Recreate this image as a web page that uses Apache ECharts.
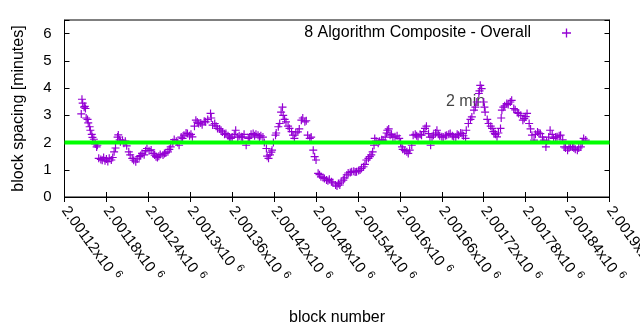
<!DOCTYPE html>
<html><head><meta charset="utf-8">
<script src="https://cdn.jsdelivr.net/npm/echarts@6/dist/echarts.min.js"></script>
<style>html,body{margin:0;padding:0;background:#fff}#c{width:640px;height:330px}</style>
</head><body><div id="c"></div>
<script>
const seriesName = '8 Algorithm Composite - Overall';
const xTitle = 'block number';
const yTitle = 'block spacing [minutes]';
const xMin = 2001120, xMax = 2001900, xStep = 60;
const yMin = 0, yMax = 6.5, yStep = 1;
const targetMinutes = 2;
const targetLabel = '2 min';
const targetLabelAt = [2001666, 3.52];

const blocks = [
2001144,2001145,2001146,2001148,2001149,2001150,2001151,2001153,2001154,2001156,
2001157,2001159,2001160,2001162,2001164,2001166,2001167,2001169,2001172,2001174,
2001176,2001178,2001180,2001182,2001184,2001187,2001189,2001191,2001193,2001196,
2001197,2001199,2001200,2001203,2001205,2001207,2001209,2001212,2001214,2001217,
2001219,2001222,2001224,2001227,2001229,2001231,2001234,2001236,2001238,2001241,
2001244,2001247,2001249,2001251,2001253,2001255,2001257,2001261,2001263,2001265,
2001268,2001270,2001272,2001275,2001277,2001280,2001282,2001284,2001287,2001289,
2001291,2001294,2001296,2001299,2001301,2001303,2001306,2001308,2001310,2001312,
2001315,2001317,2001320,2001322,2001325,2001329,2001330,2001332,2001335,2001337,
2001339,2001342,2001344,2001346,2001349,2001351,2001354,2001356,2001358,2001360,
2001363,2001365,2001368,2001370,2001373,2001375,2001377,2001380,2001383,2001385,
2001387,2001390,2001392,2001394,2001397,2001399,2001401,2001404,2001406,2001409,
2001410,2001412,2001414,2001416,2001417,2001419,2001422,2001423,2001426,2001428,
2001430,2001432,2001433,2001435,2001437,2001440,2001442,2001445,2001447,2001449,
2001451,2001454,2001456,2001459,2001461,2001464,2001466,2001468,2001471,2001473,
2001476,2001478,2001480,2001483,2001485,2001487,2001490,2001492,2001495,2001497,
2001499,2001502,2001504,2001508,2001510,2001512,2001514,2001516,2001519,2001521,
2001524,2001526,2001529,2001531,2001534,2001536,2001538,2001541,2001543,2001545,
2001548,2001550,2001552,2001555,2001557,2001559,2001561,2001563,2001564,2001566,
2001569,2001571,2001574,2001576,2001579,2001581,2001582,2001584,2001586,2001588,
2001590,2001593,2001596,2001599,2001601,2001603,2001604,2001607,2001610,2001612,
2001614,2001617,2001619,2001622,2001624,2001626,2001629,2001631,2001634,2001636,
2001638,2001641,2001643,2001644,2001646,2001648,2001651,2001653,2001655,2001657,
2001660,2001662,2001665,2001667,2001670,2001672,2001675,2001677,2001680,2001682,
2001684,2001687,2001689,2001691,2001694,2001695,2001698,2001701,2001703,2001706,
2001708,2001710,2001713,2001714,2001715,2001717,2001720,2001721,2001722,2001725,
2001727,2001730,2001732,2001734,2001736,2001737,2001739,2001741,2001744,2001745,
2001746,2001748,2001750,2001753,2001755,2001758,2001760,2001763,2001765,2001768,
2001770,2001773,2001776,2001778,2001780,2001782,2001785,2001787,2001789,2001792,
2001794,2001797,2001799,2001801,2001804,2001806,2001809,2001810,2001813,2001815,
2001818,2001820,2001823,2001825,2001828,2001830,2001833,2001835,2001837,2001840,
2001842,2001844,2001847,2001849,2001851,2001854,2001856,2001859,2001861,2001863,
2001866
];

const spacing = [
3.05,3.59,3.45,3.3,3.33,3.25,2.9,2.85,2.72,2.58,
2.45,2.3,2.19,2.12,1.95,1.84,1.9,1.42,1.38,1.35,
1.45,1.33,1.4,1.3,1.42,1.36,1.45,1.66,1.8,2.2,
2.28,2.1,2.03,2.08,1.97,2.05,1.88,1.66,1.55,1.42,
1.35,1.29,1.4,1.48,1.52,1.6,1.55,1.7,1.78,1.7,
1.73,1.6,1.54,1.48,1.45,1.5,1.56,1.54,1.6,1.62,
1.66,1.75,1.84,2.0,2.11,2.05,2.0,1.9,2.2,2.15,
2.27,2.35,2.33,2.25,2.3,2.21,2.6,2.82,2.75,2.7,
2.72,2.65,2.78,2.76,2.85,3.07,2.9,2.64,2.7,2.6,
2.52,2.5,2.45,2.39,2.3,2.33,2.25,2.2,2.15,2.2,
2.3,2.45,2.2,2.25,2.21,2.2,2.3,1.9,2.15,2.2,
2.3,2.33,2.25,2.3,2.27,2.2,2.25,2.2,2.0,1.78,
1.5,1.42,1.55,1.65,1.72,2.0,2.27,2.35,2.58,2.7,
3.12,3.3,3.0,2.85,2.76,2.6,2.52,2.4,2.27,2.15,
2.35,2.39,2.5,2.82,2.9,2.76,2.8,2.27,2.15,2.2,
1.72,1.48,1.36,0.87,0.82,0.74,0.72,0.68,0.62,0.6,
0.65,0.56,0.52,0.44,0.4,0.5,0.44,0.55,0.62,0.7,
0.81,0.88,0.9,0.93,0.95,0.92,0.93,0.97,0.99,1.05,
1.11,1.2,1.36,1.42,1.48,1.55,1.66,1.9,2.15,2.05,
1.97,2.05,2.1,2.09,2.2,2.35,2.45,2.5,2.27,2.3,
2.2,2.21,2.25,2.15,2.0,1.84,1.75,1.7,1.66,1.6,
1.72,1.9,2.27,2.3,2.25,2.21,2.3,2.27,2.4,2.52,
2.6,2.33,2.2,1.9,2.2,2.27,2.35,2.45,2.3,2.25,
2.21,2.2,2.25,2.27,2.3,2.33,2.25,2.21,2.2,2.3,
2.27,2.35,2.33,2.25,2.15,2.45,2.7,2.85,2.94,3.19,
3.3,3.49,3.8,3.9,4.1,3.98,3.49,3.3,3.12,2.85,
2.7,2.6,2.52,2.4,2.33,2.3,2.21,2.35,2.52,2.9,
3.19,3.3,3.35,3.43,3.4,3.49,3.55,3.25,3.2,3.1,
3.07,3.0,2.82,2.88,2.95,3.07,2.7,2.5,2.27,2.09,
2.3,2.39,2.35,2.33,2.2,2.09,1.84,2.05,2.2,2.45,
2.3,2.15,2.2,2.21,2.25,2.27,2.1,1.84,1.8,1.72,
1.8,1.85,1.84,1.8,1.75,1.72,1.8,1.84,2.0,2.15,
2.09
];

const FONT = 'Liberation Sans';
const PLUS = 'path://M0,6.4H15V8.6H0Z M6.4,0H8.6V15H6.4Z';
const PURPLE = '#9400d3';

function fmtBlock(v) {
  const m = String(parseFloat((v / 1e6).toFixed(5)));
  return '{m|' + m + 'x10}{e|6}';
}

const chart = echarts.init(document.getElementById('c'), null, {renderer: 'canvas'});
const axisCommon = {
  axisLine: {show: true, lineStyle: {color: '#000', width: 1}},
  axisTick: {show: true, inside: true, length: 5, lineStyle: {color: '#000', width: 1}},
  splitLine: {show: false}
};
chart.setOption({
  animation: false,
  backgroundColor: '#fff',
  grid: {left: 64.5, right: 30.5, top: 20, bottom: 133, show: true, borderColor: '#000', borderWidth: 1,
    backgroundColor: 'transparent', containLabel: false, outerBoundsMode: 'none'},
  legend: {
    data: [seriesName], right: 64, top: 20, align: 'right', itemWidth: 9, itemHeight: 9, itemGap: 0,
    icon: PLUS,
    formatter: n => '{t|' + n + '}',
    textStyle: {color: '#000', fontFamily: FONT, fontSize: 16, rich: {t: {fontFamily: FONT, fontSize: 16, color: '#000', padding: [0, 26, 0, 0]}}}
  },
  xAxis: [
    Object.assign({}, axisCommon, {
      type: 'value', min: xMin, max: xMax, interval: xStep, position: 'bottom',
      name: xTitle, nameLocation: 'middle', nameGap: 113, nameMoveOverlap: false,
      nameTextStyle: {color: '#000', fontFamily: FONT, fontSize: 16},
      axisLabel: {
        rotate: -54, margin: 11, color: '#000', fontFamily: FONT, fontSize: 15,
        formatter: fmtBlock,
        rich: {
          m: {fontFamily: FONT, fontSize: 15, color: '#000'},
          e: {fontFamily: FONT, fontSize: 11, color: '#000', padding: [0, 0, 10, 5]}
        }
      }
    }),
    Object.assign({}, axisCommon, {
      type: 'value', min: xMin, max: xMax, interval: xStep, position: 'top',
      axisLabel: {show: false}
    })
  ],
  yAxis: [
    Object.assign({}, axisCommon, {
      type: 'value', min: yMin, max: yMax, interval: yStep, position: 'left',
      name: yTitle, nameLocation: 'middle', nameGap: 38, nameRotate: 90, nameMoveOverlap: false,
      nameTextStyle: {color: '#000', fontFamily: FONT, fontSize: 16},
      axisLabel: {
        margin: 13, color: '#000', fontFamily: FONT, fontSize: 15,
        formatter: v => (Math.abs(v - Math.round(v)) < 1e-9 ? String(Math.round(v)) : '')
      }
    }),
    Object.assign({}, axisCommon, {
      type: 'value', min: yMin, max: yMax, interval: yStep, position: 'right',
      axisLabel: {show: false}
    })
  ],
  series: [
    {
      name: targetLabel + ' label', type: 'scatter', z: 1, silent: true,
      data: [targetLabelAt], symbolSize: 0,
      label: {show: true, position: [0, 0], align: 'left', verticalAlign: 'middle', formatter: targetLabel,
        color: '#111', fontFamily: FONT, fontSize: 16}
    },
    {
      name: seriesName, type: 'scatter', z: 2,
      data: blocks.map((b, i) => [b, spacing[i]]),
      symbol: PLUS, symbolSize: 8,
      itemStyle: {color: PURPLE, opacity: 1}
    },
    {
      name: 'target', type: 'line', z: 3, silent: true, symbol: 'none',
      data: [[xMin, targetMinutes], [xMax, targetMinutes]],
      lineStyle: {color: '#00ff00', width: 4}
    }
  ]
});
</script>
</body></html>
